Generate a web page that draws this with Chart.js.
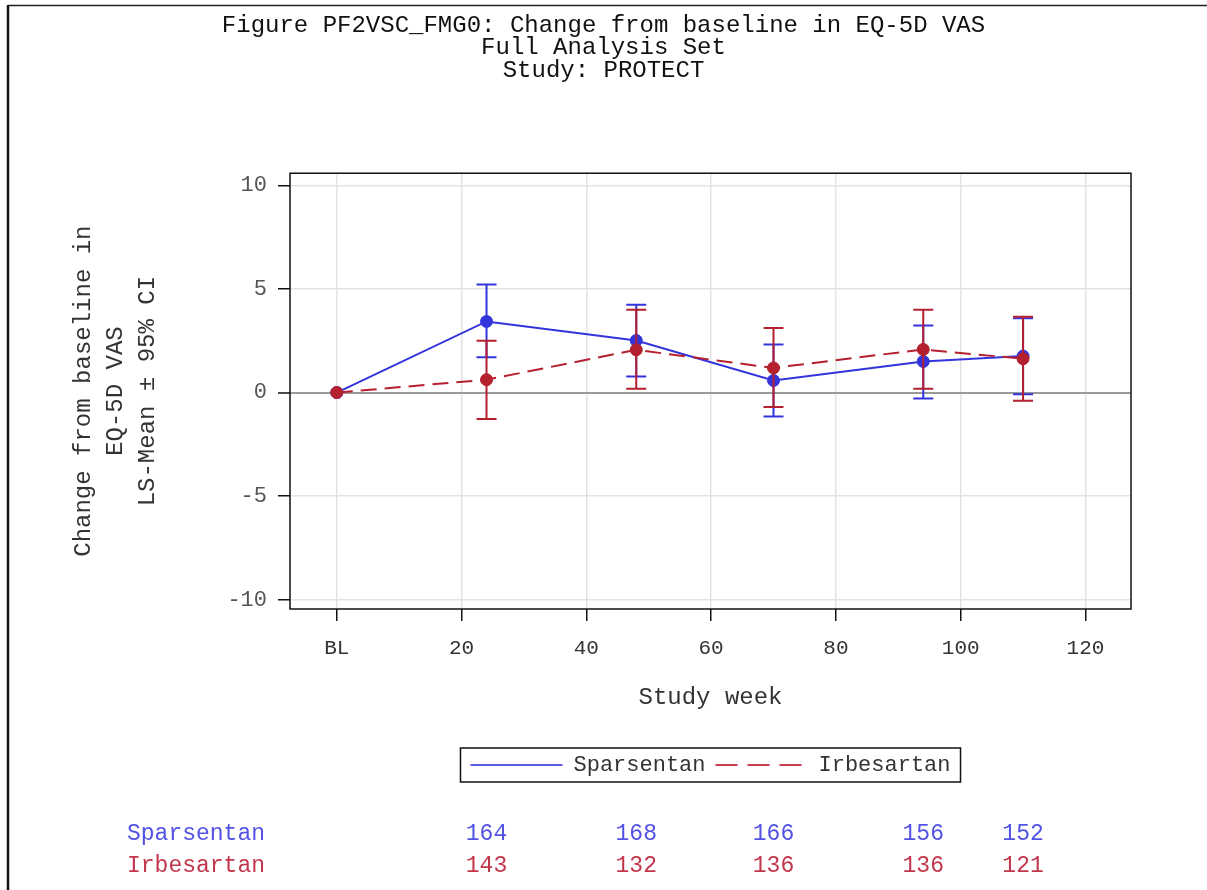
<!DOCTYPE html>
<html>
<head>
<meta charset="utf-8">
<script src="https://cdn.jsdelivr.net/npm/chart.js@4.4.1/dist/chart.umd.min.js"></script>
<style>
  html, body { margin: 0; padding: 0; background: #fff; }
  #wrap { width: 1207px; height: 890px; }
</style>
</head>
<body>
<div id="wrap"><canvas id="chart" width="1207" height="890"></canvas></div>
<script>
// values
const weeks = [0, 24, 48, 70, 94, 110];
const sparMean = [0, 3.43, 2.51, 0.58, 1.50, 1.76];
const sparLow = [null, 1.70, 0.77, -1.16, -0.29, -0.08];
const sparHigh = [null, 5.21, 4.24, 2.32, 3.24, 3.58];
const irbMean = [0, 0.62, 2.06, 1.19, 2.08, 1.63];
const irbLow = [null, -1.27, 0.18, -0.69, 0.18, -0.40];
const irbHigh = [null, 2.50, 3.99, 3.12, 4.00, 3.66];
const xTicks = [0, 20, 40, 60, 80, 100, 120];
const yTicks = [-10, -5, 0, 5, 10];
// patients at risk
const riskWeeks = [24, 48, 70, 94, 110];
const sparN = [164, 168, 166, 156, 152];
const irbN = [143, 132, 136, 136, 121];

const BLUE = '#3434dc';
const RED = '#b5202f';
const MONO = "'Liberation Mono', 'Courier New', monospace";
Chart.defaults.font.family = MONO;

const toPoints = (ys) => weeks.map((w, i) => ({ x: w, y: ys[i] }));

// page frame + white background
const pageFrame = {
    id: 'pageFrame',
    beforeDraw(chart) {
        const ctx = chart.ctx;
        ctx.save();
        ctx.fillStyle = '#fff';
        ctx.fillRect(0, 0, chart.width, chart.height);
        ctx.strokeStyle = '#222';
        ctx.lineWidth = 1.5;
        ctx.beginPath();
        ctx.moveTo(8, 5.5); ctx.lineTo(chart.width, 5.5);
        ctx.stroke();
        ctx.lineWidth = 2.5;
        ctx.strokeStyle = '#111';
        ctx.beginPath();
        ctx.moveTo(8, 5); ctx.lineTo(8, chart.height);
        ctx.stroke();
        ctx.restore();
    }
};

// 95% CI whiskers, drawn under each dataset
const errorBars = {
    id: 'errorBars',
    beforeDatasetDraw(chart, args) {
        const ds = chart.data.datasets[args.index];
        if (!ds.ciLow) return;
        const { ctx, scales: { x, y } } = chart;
        ctx.save();
        ctx.strokeStyle = ds.borderColor;
        ctx.lineWidth = 2;
        ctx.setLineDash([]);
        ds.data.forEach((p, i) => {
            if (ds.ciLow[i] == null) return;
            const px = x.getPixelForValue(p.x);
            const lo = y.getPixelForValue(ds.ciLow[i]);
            const hi = y.getPixelForValue(ds.ciHigh[i]);
            ctx.beginPath();
            ctx.moveTo(px, lo); ctx.lineTo(px, hi);
            ctx.moveTo(px - 10, lo); ctx.lineTo(px + 10, lo);
            ctx.moveTo(px - 10, hi); ctx.lineTo(px + 10, hi);
            ctx.stroke();
        });
        ctx.restore();
    }
};

// plot box, legend frame and the at-risk table
const extras = {
    id: 'extras',
    afterDraw(chart) {
        const { ctx, chartArea: a, scales: { x } } = chart;
        ctx.save();
        ctx.strokeStyle = '#111';
        ctx.lineWidth = 1.5;
        ctx.strokeRect(a.left, a.top, a.right - a.left, a.bottom - a.top);

        const hb = chart.legend.legendHitBoxes;
        if (hb && hb.length) {
            const first = hb[0], last = hb[hb.length - 1];
            const cy = first.top + first.height / 2;
            const l = first.left - 10, r = last.left + last.width + 10;
            ctx.lineWidth = 1.5;
            ctx.strokeRect(l, cy - 17, r - l, 34);
        }

        ctx.font = '23px ' + MONO;
        ctx.textBaseline = 'middle';
        const rows = [
            { name: 'Sparsentan', n: sparN, color: '#5252e4', y: 834 },
            { name: 'Irbesartan', n: irbN, color: '#c2364c', y: 866 }
        ];
        rows.forEach(row => {
            ctx.fillStyle = row.color;
            ctx.textAlign = 'left';
            ctx.fillText(row.name, 127, row.y);
            ctx.textAlign = 'center';
            riskWeeks.forEach((w, i) => ctx.fillText(String(row.n[i]), x.getPixelForValue(w), row.y));
        });
        ctx.restore();
    }
};

new Chart(document.getElementById('chart'), {
    type: 'line',
    data: {
        datasets: [
            {
                label: 'Sparsentan',
                data: toPoints(sparMean),
                ciLow: sparLow, ciHigh: sparHigh,
                borderColor: BLUE, backgroundColor: BLUE,
                borderWidth: 2,
                pointRadius: 6, pointBorderWidth: 1,
                pointBackgroundColor: BLUE, pointBorderColor: BLUE,
                order: 2
            },
            {
                label: 'Irbesartan',
                data: toPoints(irbMean),
                ciLow: irbLow, ciHigh: irbHigh,
                borderColor: RED, backgroundColor: RED,
                borderWidth: 2, borderDash: [16, 8],
                pointRadius: 6, pointBorderWidth: 1,
                pointBackgroundColor: RED, pointBorderColor: RED,
                order: 1
            }
        ]
    },
    options: {
        responsive: false,
        animation: false,
        layout: { padding: { top: 0, left: 0, right: 0, bottom: 104 } },
        plugins: {
            title: {
                display: true,
                text: ['Figure PF2VSC_FMG0: Change from baseline in EQ-5D VAS', 'Full Analysis Set', 'Study: PROTECT'],
                color: '#111',
                font: { size: 24, weight: 'normal', lineHeight: 0.92 },
                padding: { top: 15, bottom: 92 }
            },
            legend: {
                position: 'bottom',
                fullSize: false,
                labels: {
                    usePointStyle: true,
                    pointStyleWidth: 92,
                    color: '#333',
                    font: { size: 22 },
                    padding: 10,
                    generateLabels: chart => chart.data.datasets.map((ds, i) => ({
                        text: ds.label,
                        datasetIndex: i,
                        pointStyle: 'line',
                        strokeStyle: i === 0 ? '#5a5ae8' : '#c83a4c',
                        fillStyle: ds.borderColor,
                        lineWidth: 2,
                        lineDash: i === 0 ? [] : [22, 10],
                        fontColor: '#333',
                        hidden: false
                    }))
                }
            },
            tooltip: { enabled: false }
        },
        scales: {
            x: {
                type: 'linear',
                min: -7.5, max: 127.3,
                afterBuildTicks: s => { s.ticks = xTicks.map(v => ({ value: v })); },
                afterFit: s => { s.height = 135; },
                ticks: {
                    callback: v => v === 0 ? 'BL' : String(v),
                    color: '#333', font: { size: 21 }, padding: 15,
                    maxRotation: 0, autoSkip: false
                },
                grid: { color: '#e3e3e3', lineWidth: 1.5, tickColor: '#111', tickLength: 12, tickWidth: 1.5 },
                border: { display: false },
                title: {
                    display: true, text: 'Study week', color: '#333',
                    font: { size: 24 }, padding: { top: 0, bottom: 32 }
                }
            },
            y: {
                min: -10.44, max: 10.58,
                afterBuildTicks: s => { s.ticks = yTicks.map(v => ({ value: v })); },
                afterFit: s => { s.width = 290; },
                ticks: { color: '#555', font: { size: 22 }, padding: 11 },
                grid: {
                    color: c => (c.tick && c.tick.value === 0) ? '#9a9a9a' : '#e3e3e3',
                    lineWidth: c => (c.tick && c.tick.value === 0) ? 2 : 1.5,
                    tickColor: '#111', tickLength: 12, tickWidth: 1.5
                },
                border: { display: false },
                title: {
                    display: true,
                    text: ['Change from baseline in', 'EQ-5D VAS', 'LS-Mean \u00b1 95% CI'],
                    color: '#333',
                    font: { size: 24, lineHeight: 1.333 },
                    padding: { top: 68, bottom: 0 }
                }
            },
            y2: {
                position: 'right',
                afterFit: s => { s.width = 76; },
                grid: { display: false },
                ticks: { display: false },
                border: { display: false }
            }
        }
    },
    plugins: [pageFrame, errorBars, extras]
});
</script>
</body>
</html>
